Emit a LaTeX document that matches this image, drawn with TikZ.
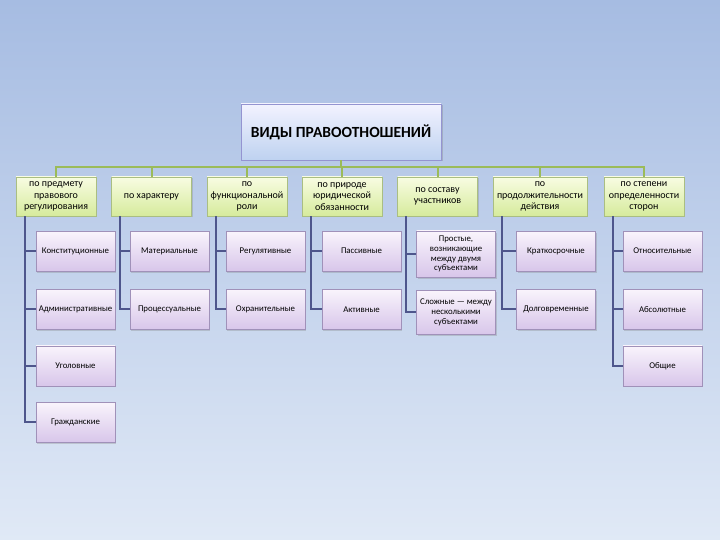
\documentclass[tikz,border=0pt]{standalone}
\usepackage{fontspec}
\setmainfont{Carlito}
\usetikzlibrary{shadows,positioning}

\definecolor{bgtop}{RGB}{166,188,226}
\definecolor{bgbot}{RGB}{224,233,246}
\definecolor{busgreen}{RGB}{155,187,89}
\definecolor{linkblue}{RGB}{78,86,140}

\tikzset{
  head/.style={draw=gray!60!blue!60, top color=white!95!blue, bottom color={rgb,255:red,190;green,210;blue,240},
    minimum width=200pt, minimum height=56pt, font=\fontsize{15.5}{17}\selectfont\bfseries,
    drop shadow={opacity=0.35, shadow xshift=1.5pt, shadow yshift=-1.5pt}},
  crit/.style={draw={rgb,255:red,170;green,190;blue,130}, top color={rgb,255:red,248;green,252;blue,226},
    bottom color={rgb,255:red,214;green,235;blue,156}, minimum width=80pt, minimum height=39pt,
    inner sep=1pt, align=center, font=\fontsize{10}{11.5}\selectfont,
    drop shadow={opacity=0.3, shadow xshift=1pt, shadow yshift=-1.5pt}},
  leaf/.style={draw={rgb,255:red,160;green,145;blue,185}, top color={rgb,255:red,249;green,244;blue,252},
    bottom color={rgb,255:red,216;green,198;blue,234}, minimum width=79pt, minimum height=40pt,
    inner sep=1pt, align=center, font=\fontsize{8.8}{9.8}\selectfont,
    drop shadow={opacity=0.3, shadow xshift=1pt, shadow yshift=-1.5pt}},
  bus/.style={draw=busgreen, line width=2pt},
  link/.style={draw=linkblue, line width=2pt},
}

\begin{document}
\begin{tikzpicture}[x=1pt, y=-1pt, node distance=17pt]
  \useasboundingbox (0,0) rectangle (720,540);
  \fill[top color=bgtop, bottom color=bgbot] (0,0) rectangle (720,540);

  % main title
  \node[head] (top) at (341,132) {ВИДЫ ПРАВООТНОШЕНИЙ};

  % criteria
  \node[crit] (p1) at (56,196.5) {по предмету\\правового\\регулирования};
  \node[crit] (p2) at (151.5,196.5) {по характеру};
  \node[crit] (p3) at (247,196.5) {по\\функциональной\\роли};
  \node[crit] (p4) at (342,196.5) {по природе\\юридической\\обязанности};
  \node[crit] (p5) at (437.5,196.5) {по составу\\участников};
  \node[crit, minimum width=94pt] (p6) at (540,196.5) {по\\продолжительности\\действия};
  \node[crit] (p7) at (644,196.5) {по степени\\определенности\\сторон};

  % kinds
  \node[leaf] (c11) at (75.5,251) {Конституционные};
  \node[leaf] (c12) [below=18pt of c11] {Административные};
  \node[leaf] (c13) [below=16pt of c12] {Уголовные};
  \node[leaf] (c14) [below=16pt of c13] {Гражданские};

  \node[leaf] (c21) at (169.5,251) {Материальные};
  \node[leaf] (c22) [below=18pt of c21] {Процессуальные};

  \node[leaf] (c31) at (265.5,251) {Регулятивные};
  \node[leaf] (c32) [below=18pt of c31] {Охранительные};

  \node[leaf] (c41) at (361.5,251) {Пассивные};
  \node[leaf] (c42) [below=18pt of c41] {Активные};

  \node[leaf, minimum height=46pt] (c51) at (456,254) {Простые,\\возникающие\\между двумя\\субъектами};
  \node[leaf, minimum height=44pt] (c52) [below=13pt of c51] {Сложные — между\\несколькими\\субъектами};

  \node[leaf] (c61) at (556,251) {Краткосрочные};
  \node[leaf] (c62) [below=18pt of c61] {Долговременные};

  \node[leaf] (c71) at (662.5,251) {Относительные};
  \node[leaf] (c72) [below=18pt of c71] {Абсолютные};
  \node[leaf] (c73) [below=16pt of c72] {Общие};

  % connectors
  \foreach \p in {p1,p2,p3,p4,p5,p6,p7}
    \draw[bus] (top.south) -- ++(0,7) -| (\p.north);
  \foreach \p/\c in {p1/c11,p1/c12,p1/c13,p1/c14,p2/c21,p2/c22,p3/c31,p3/c32,
                     p4/c41,p4/c42,p5/c51,p5/c52,p6/c61,p6/c62,p7/c71,p7/c72,p7/c73}
    \draw[link] ([xshift=9pt]\p.south west) |- (\c.west);
\end{tikzpicture}
\end{document}
